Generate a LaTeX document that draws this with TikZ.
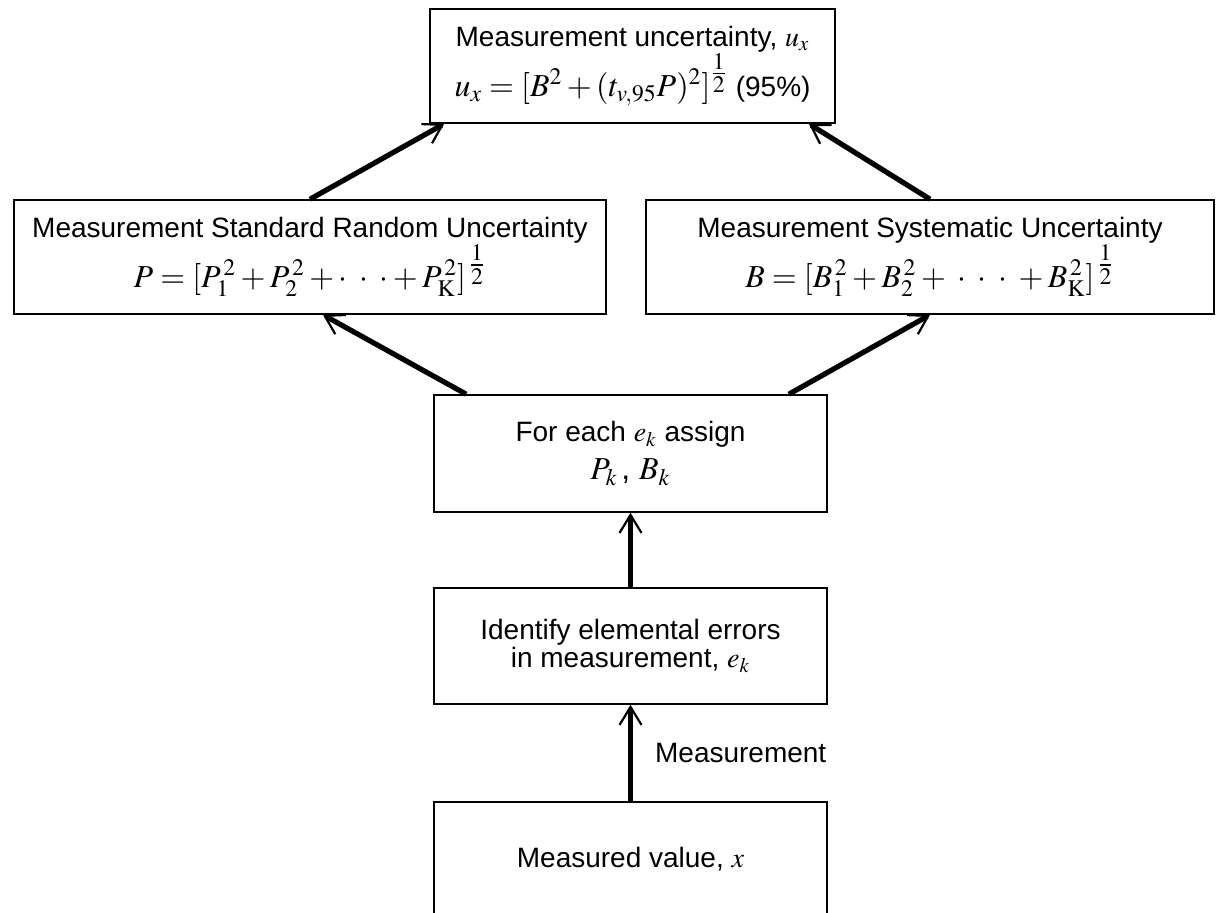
\documentclass[tikz,border=0pt]{standalone}
\usepackage{amsmath}
\usepackage{mathptmx}
\usepackage{fontspec}
\setmainfont{Liberation Sans}
\usetikzlibrary{arrows.meta}

\newcommand{\formula}[1]{{\fontsize{16}{25}\selectfont #1}}

\tikzset{
  box/.style={draw, line width=0.8pt, rectangle, align=center, inner sep=0pt,
    font=\fontsize{14}{#1}\selectfont},
  flow/.style={line width=2.6pt,
    -{Straight Barb[length=9pt,width=11pt,line width=1.1pt]}},
}

\begin{document}
\begin{tikzpicture}[x=0.5pt, y=-0.5pt, font=\fontsize{14}{17}\selectfont]
    \useasboundingbox (0,0) rectangle (1218,912);
    \clip (0,0) rectangle (1218,912);
    % boxes
    \node[box=25, minimum width=202.5pt, minimum height=57pt] (unc) at (632.5,66)
        {Measurement uncertainty, $u_x$\\
         \formula{$u_x = [B^2 + (t_{v,95}P)^2]^{\tfrac{1}{2}}$} (95\%)};
    \node[box=25, minimum width=296pt, minimum height=57pt] (random) at (310,257)
        {Measurement Standard Random Uncertainty\\
         \formula{$P = [P_1^{\,2} + P_2^{\,2} + \cdot\;\cdot\;\cdot + P_{\mathrm{K}}^{\,2}]^{\,\tfrac{1}{2}}$}};
    \node[box=25, minimum width=284pt, minimum height=57pt] (system) at (930,257)
        {Measurement Systematic Uncertainty\\
         \formula{$B = [B_1^{\,2} + B_2^{\,2} + \;\cdot\;\cdot\;\cdot\; + B_{\mathrm{K}}^{\,2}]^{\,\tfrac{1}{2}}$}};
    \node[box=19, minimum width=196.5pt, minimum height=58.5pt] (assign) at (630.5,453.5)
        {For each $e_k$ assign\\ \formula{$P_k\,$, $B_k$}};
    \node[box=13, minimum width=196.5pt, minimum height=58pt] (identify) at (630.5,646)
        {Identify elemental errors\\ in measurement, $e_k$};
    \node[box=17, minimum width=196.5pt, minimum height=57pt] (measured) at (630.5,859)
        {Measured value, $x$};
    % arrows
    \draw[flow] (random.north) -- ([xshift=7.5pt]unc.south west);
    \draw[flow] (system.north) -- ([xshift=-13.5pt]unc.south east);
    \draw[flow] ([xshift=16.5pt]assign.north west) -- ([xshift=6.5pt]random.south);
    \draw[flow] ([xshift=-19.5pt]assign.north east) -- (system.south);
    \draw[flow] (identify.north) -- (assign.south);
    \draw[flow] (measured.north) -- node[right=11pt, inner sep=0pt] {Measurement} (identify.south);
\end{tikzpicture}
\end{document}
